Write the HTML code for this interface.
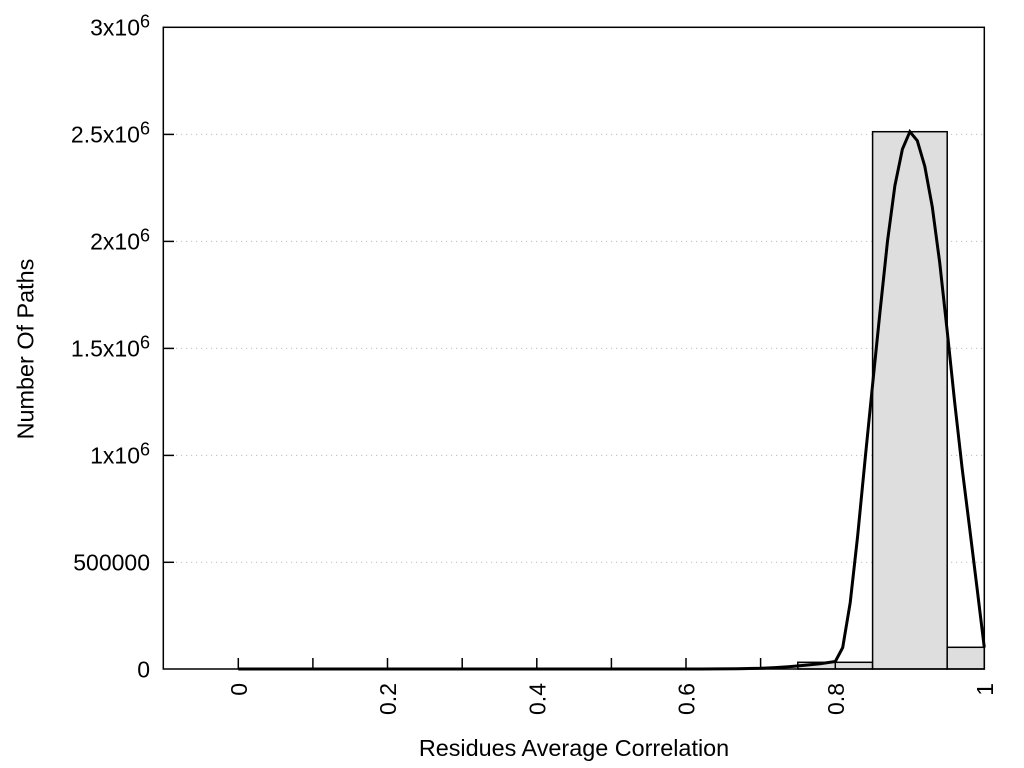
<!DOCTYPE html>
<html>
<head>
<meta charset="utf-8">
<style>
  html, body { margin:0; padding:0; background:#ffffff; }
  svg { display:block; }
  text { font-family: "Liberation Sans", Arial, sans-serif; fill:#000; }
</style>
</head>
<body>
<svg width="1024" height="768" viewBox="0 0 1024 768" xmlns="http://www.w3.org/2000/svg">
  <rect x="0" y="0" width="1024" height="768" fill="#ffffff"/>

  <!-- grid lines -->
  <g stroke="#bdbdbd" stroke-width="1" stroke-dasharray="1.2 3.8">
    <line x1="176" y1="562.3" x2="983" y2="562.3"/>
    <line x1="176" y1="455.4" x2="983" y2="455.4"/>
    <line x1="176" y1="348.4" x2="983" y2="348.4"/>
    <line x1="176" y1="241.4" x2="983" y2="241.4"/>
    <line x1="176" y1="134.4" x2="983" y2="134.4"/>
  </g>

  <!-- bars -->
  <g fill="#dedede" stroke="#000" stroke-width="1.5">
    <rect x="797.8" y="662.3" width="74.8" height="6.7"/>
    <rect x="872.6" y="131.7" width="74.6" height="537.3"/>
    <rect x="947.2" y="647.3" width="37.1" height="21.7"/>
  </g>

  <!-- y ticks -->
  <g stroke="#000" stroke-width="1.5">
    <line x1="163.3" y1="562.3" x2="174" y2="562.3"/>
    <line x1="163.3" y1="455.4" x2="174" y2="455.4"/>
    <line x1="163.3" y1="348.4" x2="174" y2="348.4"/>
    <line x1="163.3" y1="241.4" x2="174" y2="241.4"/>
    <line x1="163.3" y1="134.4" x2="174" y2="134.4"/>
  </g>

  <!-- x ticks -->
  <g stroke="#000" stroke-width="1.5">
    <line x1="238.3" y1="669" x2="238.3" y2="658"/>
    <line x1="312.9" y1="669" x2="312.9" y2="658"/>
    <line x1="387.5" y1="669" x2="387.5" y2="658"/>
    <line x1="462.2" y1="669" x2="462.2" y2="658"/>
    <line x1="536.8" y1="669" x2="536.8" y2="658"/>
    <line x1="611.4" y1="669" x2="611.4" y2="658"/>
    <line x1="686.0" y1="669" x2="686.0" y2="658"/>
    <line x1="760.6" y1="669" x2="760.6" y2="658"/>
    <line x1="835.3" y1="669" x2="835.3" y2="662"/>
  </g>

  <!-- curve -->
  <polyline fill="none" stroke="#000" stroke-width="3" stroke-linejoin="miter" stroke-miterlimit="3"
    points="238.3,669 700,669 738,668.8 760,668.3 775,667.6 790,666.6 805,665.3 820,663.7 835.3,661.5 842.7,647.6 850.2,602.7 857.6,536.4 865.1,459.4 872.6,384.5 880,311.8 887.5,241.2 894.9,185.6 902.4,149.2 909.9,131.7 917.3,140.7 924.8,166.3 932.3,207 939.7,262.6 947.2,331 954.6,401.6 962.1,468 969.6,527.8 977,587.7 984.3,647.6"/>

  <!-- frame -->
  <rect x="163.3" y="27.3" width="821" height="641.7" fill="none" stroke="#000" stroke-width="1.5"/>

  <!-- y tick labels -->
  <g font-size="23" text-anchor="end">
    <text x="150" y="677.3">0</text>
    <text x="150" y="570.5">500000</text>
    <text x="150" y="463.6">1x10<tspan font-size="18" dy="-8">6</tspan></text>
    <text x="150" y="356.6">1.5x10<tspan font-size="18" dy="-8">6</tspan></text>
    <text x="150" y="249.6">2x10<tspan font-size="18" dy="-8">6</tspan></text>
    <text x="150" y="142.6">2.5x10<tspan font-size="18" dy="-8">6</tspan></text>
    <text x="150" y="35.6">3x10<tspan font-size="18" dy="-8">6</tspan></text>
  </g>

  <!-- x tick labels (rotated) -->
  <g font-size="23" text-anchor="end">
    <text transform="translate(246.8,683) rotate(-90)">0</text>
    <text transform="translate(396.0,683) rotate(-90)">0.2</text>
    <text transform="translate(545.3,683) rotate(-90)">0.4</text>
    <text transform="translate(694.5,683) rotate(-90)">0.6</text>
    <text transform="translate(843.8,683) rotate(-90)">0.8</text>
    <text transform="translate(993.0,683) rotate(-90)">1</text>
  </g>

  <!-- axis labels -->
  <text x="574" y="756" font-size="23.4" text-anchor="middle">Residues Average Correlation</text>
  <text transform="translate(33.5,349) rotate(-90)" font-size="23.4" text-anchor="middle">Number Of Paths</text>
</svg>
</body>
</html>
